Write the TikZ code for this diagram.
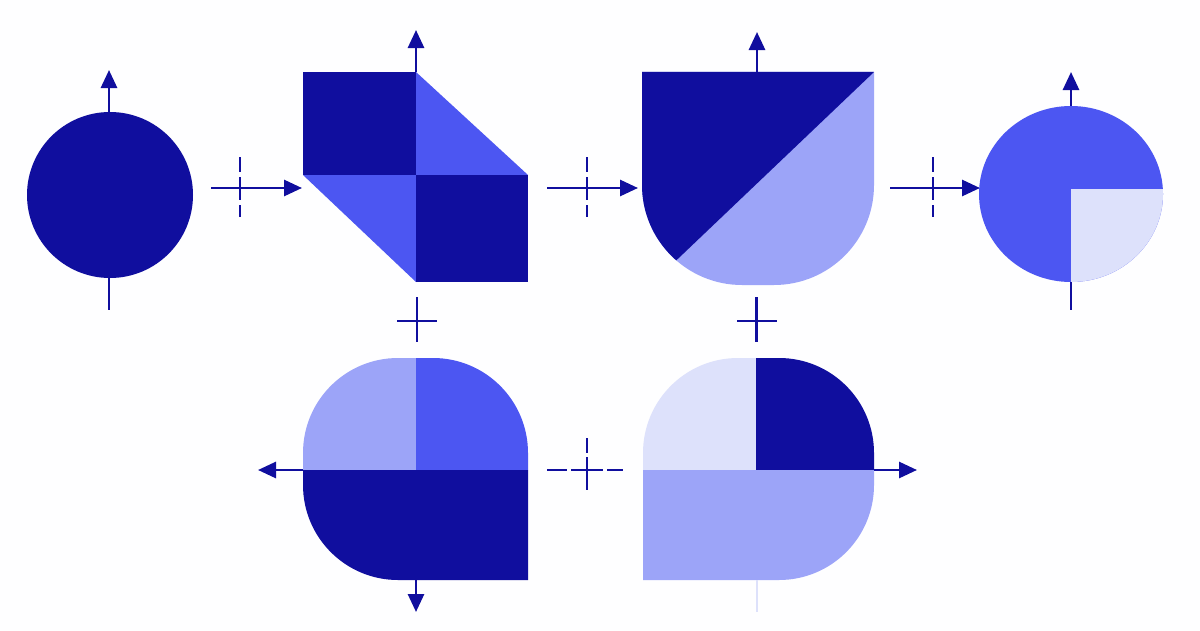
\documentclass[tikz,border=0pt]{standalone}
\usetikzlibrary{arrows.meta}
\definecolor{navy}{RGB}{16,14,158}
\definecolor{midblue}{RGB}{76,86,242}
\definecolor{lightblue}{RGB}{156,164,248}
\definecolor{paleblue}{RGB}{221,225,251}
\definecolor{bg}{RGB}{254,254,255}
\tikzset{
  axis/.style={draw=navy, line width=0.07cm},
  axisarrow/.style={axis, -{Triangle[length=0.45cm,width=0.4cm]}},
  paleaxis/.style={draw=paleblue, line width=0.07cm},
}
\begin{document}
\begin{tikzpicture}[x=0.025cm,y=-0.025cm]
\fill[bg] (0,0) rectangle (1200,630);
\useasboundingbox (0,0) rectangle (1200,630);

% ---------- shape 1: circle ----------
\fill[navy] (110,195) circle[radius=83];
\coordinate (c1top) at (109,112);
\coordinate (c1tip) at (109,70);
\coordinate (c1bot) at (109,278);
\coordinate (c1end) at (109,310);
\draw[axisarrow] (c1top) -- (c1tip);
\draw[axis] (c1bot) -- (c1end);

% ---------- connector 1 ----------
\coordinate (k1a) at (211,188);
\coordinate (k1b) at (302,188);
\draw[axisarrow] (k1a) -- (k1b);
\draw[axis] (240,157) -- (240,172) (240,177) -- (240,200) (240,205) -- (240,217);

% ---------- shape 2: squares and triangles ----------
\fill[navy] (303,72) rectangle (416,175);
\fill[midblue] (416,72) -- (528,175) -- (416,175) -- cycle;
\fill[midblue] (303,175) -- (416,282) -- (416,175) -- cycle;
\fill[navy] (416,175) rectangle (528,282);
\coordinate (s2top) at (416,72);
\coordinate (s2tip) at (416,30);
\draw[axisarrow] (s2top) -- (s2tip);

% plus below shape 2
\draw[axis] (417,297) -- (417,342) (397,321) -- (437,321);

% ---------- connector 2 ----------
\coordinate (k2a) at (547,188);
\coordinate (k2b) at (638,188);
\draw[axisarrow] (k2a) -- (k2b);
\draw[axis] (587,157) -- (587,172) (587,177) -- (587,200) (587,205) -- (587,217);

% ---------- shape 3: U shape with diagonal ----------
\fill[lightblue] (642,72) -- (874,72) -- (874,185)
  arc[start angle=0, end angle=90, radius=100] -- (742,285)
  arc[start angle=90, end angle=180, radius=100] -- cycle;
\begin{scope}
  \clip (874,72) -- (578,354) -- (578,40) -- (874,40) -- cycle;
  \fill[navy] (642,72) -- (874,72) -- (874,185)
    arc[start angle=0, end angle=90, radius=100] -- (742,285)
    arc[start angle=90, end angle=180, radius=100] -- cycle;
\end{scope}
\coordinate (s3top) at (757,72);
\coordinate (s3tip) at (757,32);
\draw[axisarrow] (s3top) -- (s3tip);

% plus below shape 3
\draw[axis] (757,297) -- (757,342) (737,321) -- (777,321);

% ---------- connector 3 ----------
\coordinate (k3a) at (890,188);
\coordinate (k3b) at (980,188);
\draw[axisarrow] (k3a) -- (k3b);
\draw[axis] (933,157) -- (933,172) (933,177) -- (933,200) (933,205) -- (933,217);

% ---------- shape 4: circle with pale quadrant ----------
\fill[midblue] (1071,194) ellipse[x radius=92, y radius=88];
\begin{scope}
  \clip (1071,189) rectangle (1180,300);
  \fill[paleblue] (1071,194) ellipse[x radius=92, y radius=88];
\end{scope}
\coordinate (s4top) at (1071,106);
\coordinate (s4tip) at (1071,72);
\coordinate (s4bot) at (1071,282);
\coordinate (s4end) at (1071,310);
\draw[axisarrow] (s4top) -- (s4tip);
\draw[axis] (s4bot) -- (s4end);

% ---------- shape 5 ----------
\fill[lightblue] (303,470) -- (303,453)
  arc[start angle=180, end angle=270, radius=95] -- (416,358) -- (416,470) -- cycle;
\fill[midblue] (416,358) -- (433,358)
  arc[start angle=270, end angle=360, radius=95] -- (528,470) -- (416,470) -- cycle;
\fill[navy] (303,470) -- (528,470) -- (528,580) -- (398,580)
  arc[start angle=90, end angle=180, radius=95] -- cycle;
\coordinate (s5left) at (303,470);
\coordinate (s5ltip) at (258,470);
\coordinate (s5bot) at (416,580);
\coordinate (s5btip) at (416,612);
\draw[axisarrow] (s5left) -- (s5ltip);
\draw[axisarrow] (s5bot) -- (s5btip);

% ---------- connector 4 ----------
\draw[axis] (547,470) -- (567,470) (571,470) -- (603,470) (607,470) -- (623,470);
\draw[axis] (587,438) -- (587,453) (587,457) -- (587,490);

% ---------- shape 6 ----------
\fill[paleblue] (643,470) -- (643,453)
  arc[start angle=180, end angle=270, radius=95] -- (756,358) -- (756,470) -- cycle;
\fill[navy] (756,358) -- (779,358)
  arc[start angle=270, end angle=360, radius=95] -- (874,470) -- (756,470) -- cycle;
\fill[lightblue] (643,470) -- (874,470) -- (874,485)
  arc[start angle=0, end angle=90, radius=95] -- (643,580) -- cycle;
\coordinate (s6right) at (874,470);
\coordinate (s6rtip) at (917,470);
\coordinate (s6bot) at (757,580);
\coordinate (s6end) at (757,612);
\draw[axisarrow] (s6right) -- (s6rtip);
\draw[paleaxis] (s6bot) -- (s6end);

% plus above shape 6
\draw[axis] (756,297) -- (756,342) (737,321) -- (777,321);
\end{tikzpicture}
\end{document}
